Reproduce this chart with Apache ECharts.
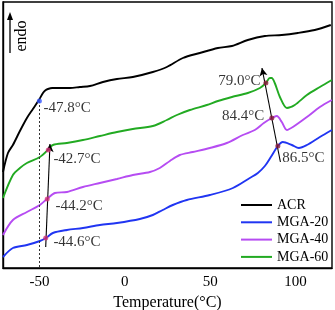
<!DOCTYPE html>
<html>
<head>
<meta charset="utf-8">
<script src="https://cdn.jsdelivr.net/npm/echarts@6/dist/echarts.min.js"></script>
<style>html,body{margin:0;padding:0;background:#fff}#c{width:335px;height:310px}</style>
</head>
<body>
<div id="c"></div>
<script>
// Temperature (°C) and heat flow (arbitrary units, endo up, offset curves)
const acrT = [-71.3,-68.4,-65.5,-61.4,-57.3,-53.8,-50.3,-47.9,-46.6,-45.0,-42.5,-40.9,-32.1,-26.3,-20.4,-12.8,-4.6,4.7,16.4,24.6,34.0,43.9,54.5,62.7,72.0,82.0,91.9,101.3,111.2,120.6];
const acrH = [96,115,123,137,150,159,168,175,177.5,179,180,180,180,181,182,186,189,191,196,201,210,215,220,222,228,232,233,235,238,243];

const mga20T = [-71.3,-65.5,-57.3,-49.7,-46.2,-42.1,-33.9,-24.5,-14.6,-4.6,8.8,16.4,22.2,28.1,36.3,49.8,63.3,73.2,77.9,82.0,85.5,89.6,92.5,97.8,101.9,106.6,114.2,121.2];
const mga20H = [11,20,23,27,30,35,38,40,43,45,49,53,58,63,68,73,80,90,95,102,111,122,126,123,120,123,131,138];

const mga40T = [-71.3,-65.5,-57.3,-49.7,-45.6,-40.9,-33.9,-24.5,-14.6,-4.6,4.7,14.7,20.5,26.4,32.2,39.8,49.8,59.7,69.1,76.1,81.4,86.1,89.0,91.9,94.9,98.4,106.6,114.2,121.2];
const mga40H = [33,48,56,63,69,75,76,81,85,89,93,96,100,107,113,116,120,125,133,138,145,150,152,146,138,141,151,161,168];

const mga60T = [-71.3,-65.5,-61.4,-57.3,-49.7,-45.0,-42.1,-33.9,-24.5,-14.6,-4.6,4.7,16.4,24.6,30.5,38.1,48.0,54.5,62.7,72.0,79.1,82.6,84.9,86.0,87.8,90.8,94.9,99.5,106.6,114.2,121.2];
const mga60H = [70,93,100,105,111,118,123,125,128,132,136,139,142,148,153,158,163,167,171,175,180,185,190,190,185,171,160,163,173,181,188];

const seriesNames = ['ACR','MGA-20','MGA-40','MGA-60'];
const seriesColors = ['#000000','#2035f2','#b64cf2','#22aa22'];

// Tg markers
const markT = [-50.0,-44.8,-45.4,-46.3,82.6,86.1,89.6];
const markH = [167,118,69,30,185,150,122];
const markColors = ['#3355ff','#d6337a','#d6337a','#d6337a','#8b1c3c','#8b1c3c','#8b1c3c'];

// annotation texts
const annoText = ['-47.8°C','-42.7°C','-44.2°C','-44.6°C','79.0°C','84.4°C','86.5°C'];
const annoT = [-47.9,-42.1,-40.9,-42.1,79.8,82.0,91.9];
const annoH = [160,109,62,26,187,152,110];
const annoSide = ['right','right','right','right','left','left','right'];

// arrows [T0,H0,T1,H1]
const arrowLeft = [-46.3,21,-43.8,124];
const arrowRight = [91.1,106,80.3,200];
const dottedLine = [-50.0,167,-50.0,0];

const zip = (a,b) => a.map((v,i)=>[v,b[i]]);
const FONT = "'Liberation Serif','Times New Roman',serif";

const chart = echarts.init(document.getElementById('c'), null, {renderer:'canvas'});
const lineSeries = [[acrT,acrH],[mga20T,mga20H],[mga40T,mga40H],[mga60T,mga60H]].map((d,i)=>({
  name: seriesNames[i], type:'line', data: zip(d[0],d[1]), showSymbol:false, symbol:'none',
  smooth:0.3, lineStyle:{color:seriesColors[i], width:1.9}, itemStyle:{color:seriesColors[i]},
  z: 3
}));
lineSeries[0].markLine = {
  silent:true, symbol:['none','none'], label:{show:false},
  lineStyle:{color:'#333', width:1, type:[2,2]},
  data:[[{coord:[dottedLine[0],dottedLine[1]]},{coord:[dottedLine[2],dottedLine[3]]}]]
};
lineSeries[1].markLine = {
  silent:true, symbol:['none','arrow'], symbolSize:[6,8], label:{show:false},
  lineStyle:{color:'#000', width:1.1, type:'solid'},
  data:[
    [{coord:[arrowLeft[0],arrowLeft[1]]},{coord:[arrowLeft[2],arrowLeft[3]]}],
    [{coord:[arrowRight[0],arrowRight[1]]},{coord:[arrowRight[2],arrowRight[3]]}]
  ]
};

const option = {
  animation:false,
  grid:{left:3,right:3,top:2,bottom:42,show:true,borderColor:'#000',borderWidth:1.4,outerBoundsMode:'none',containLabel:false},
  xAxis:{type:'value',min:-71.3,max:121.3,splitNumber:4,
    axisLine:{show:true,onZero:false,lineStyle:{color:'#000',width:1.4}},
    axisTick:{show:false}, splitLine:{show:false},
    axisLabel:{margin:7,color:'#000',fontFamily:FONT,fontSize:15,
      formatter:v=> (Math.abs(v%50)<1e-9 ? String(v) : '')},
    name:'Temperature(°C)', nameLocation:'middle', nameGap:22,
    nameTextStyle:{color:'#000',fontFamily:FONT,fontSize:16}
  },
  yAxis:{type:'value',min:0,max:266,axisLine:{show:true,onZero:false,lineStyle:{color:'#000',width:1.4}},
    axisTick:{show:false},axisLabel:{show:false},splitLine:{show:false}},
  legend:{orient:'vertical',left:241,top:198,itemWidth:31,itemHeight:2,icon:'rect',itemGap:3.3,
    data:seriesNames,textStyle:{color:'#000',fontFamily:FONT,fontSize:14,lineHeight:14,padding:0},padding:0},
  series:[
    ...lineSeries,
    {type:'scatter', name:'markers', data: markT.map((t,i)=>({value:[t,markH[i]], itemStyle:{color:markColors[i]}})),
      symbolSize:5, z:5, silent:true},
    {type:'scatter', name:'annotations', silent:true, z:6,
      data: annoT.map((t,i)=>({value:[t,annoH[i]], label:{position:annoSide[i]}})),
      symbolSize:1, itemStyle:{color:'rgba(0,0,0,0)'},
      label:{show:true, distance:0, color:'#000', fontFamily:FONT, fontSize:15,
        formatter:p=>annoText[p.dataIndex]}}
  ],
  graphic:[
    {type:'line', shape:{x1:10,y1:53,x2:10,y2:18}, style:{stroke:'#000',lineWidth:1.3}, silent:true},
    {type:'polygon', shape:{points:[[10,12],[7,20],[13,20]]}, style:{fill:'#000'}, silent:true},
    {type:'text', x:22, y:36, rotation:Math.PI/2, style:{text:'endo', fill:'#000', font:"16px "+FONT, textAlign:'center', textVerticalAlign:'middle'}, silent:true}
  ]
};
chart.setOption(option);
</script>
</body>
</html>
